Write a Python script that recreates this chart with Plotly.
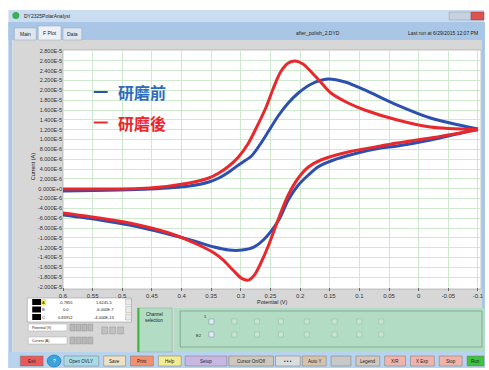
import re
import plotly.graph_objects as go

# ---------------- data (potential in V, current in µA) ----------------
blue_fwd_E = [0.600, 0.454, 0.387, 0.354, 0.337, 0.320, 0.304, 0.282, 0.267, 0.253, 0.237,
              0.220, 0.203, 0.181, 0.153, 0.124, 0.091, 0.036, -0.020, -0.100]
blue_fwd_uA = [-0.48, -0.07, 0.54, 1.35, 2.17, 3.39, 4.81, 6.64, 9.08, 11.73, 14.78,
               17.42, 19.46, 21.29, 22.30, 21.69, 20.07, 17.0, 14.37, 12.13]
blue_rev_E = [-0.100, -0.020, 0.036, 0.064, 0.103, 0.148, 0.170, 0.186, 0.203, 0.220, 0.236,
              0.262, 0.278, 0.298, 0.320, 0.345, 0.379, 0.429, 0.488, 0.538, 0.600]
blue_rev_uA = [12.13, 9.90, 8.68, 8.27, 7.25, 5.63, 4.41, 2.78, 0.74, -2.31, -6.37,
               -10.44, -11.87, -12.48, -12.48, -11.87, -10.65, -9.02, -7.39, -6.37, -5.36]

red_fwd_E = [0.600, 0.454, 0.387, 0.354, 0.337, 0.320, 0.304, 0.287, 0.274, 0.258, 0.245,
             0.233, 0.220, 0.208, 0.195, 0.181, 0.164, 0.148, 0.119, 0.091, 0.036, -0.020, -0.100]
red_fwd_uA = [-0.07, 0.13, 1.15, 2.17, 3.19, 4.61, 6.44, 9.29, 12.34, 16.41, 20.47,
              23.73, 25.56, 25.97, 25.36, 23.73, 21.49, 19.46, 17.42, 16.0, 13.97, 12.54, 12.0]
red_rev_E = [-0.100, -0.020, 0.036, 0.064, 0.119, 0.165, 0.186, 0.203, 0.220, 0.236, 0.253,
             0.267, 0.276, 0.286, 0.298, 0.312, 0.330, 0.345, 0.371, 0.421, 0.488, 0.538, 0.600]
red_rev_uA = [12.0, 10.30, 9.29, 8.68, 7.46, 5.83, 4.41, 2.17, -1.29, -5.97, -11.46,
              -15.32, -17.40, -18.55, -18.30, -16.70, -14.50, -13.10, -11.46, -9.02, -6.98, -5.97, -4.95]

x_ticks = [0.6, 0.55, 0.5, 0.45, 0.4, 0.35, 0.3, 0.25, 0.2, 0.15, 0.1, 0.05, 0, -0.05, -0.1]
x_ticktext = ["0.6", "0.55", "0.5", "0.45", "0.4", "0.35", "0.3", "0.25", "0.2", "0.15",
              "0.1", "0.05", "0", "-0.05", "-0.1"]
y_ticks_uA = [28, 26, 24, 22, 20, 18, 16, 14, 12, 10, 8, 6, 4, 2, 0,
              -2, -4, -6, -8, -10, -12, -14, -16, -18, -20]

series_names = ["研磨前", "研磨後"]
series_colors = ["#2d4fae", "#e8282c"]


def fmt_e(v):
    s = f"{v:.3E}"
    return re.sub(r"E([+-])0*(\d)", r"E\1\2", s)


y_ticks = [v * 1e-6 for v in y_ticks_uA]
y_ticktext = [fmt_e(v) for v in y_ticks]

# ---------------- geometry helpers (pixel -> paper) ----------------
W, H = 489, 370
L, R, T, B = 63, 484, 51, 287


def px(x):
    return (x - L) / (R - L)


def py(y):
    return (B - y) / (B - T)


shapes = []
annotations = []


def rect(x0, y0, x1, y1, fill, line=None, lw=0.6, layer="below", kind="rect"):
    shapes.append(dict(type=kind, xref="paper", yref="paper",
                       x0=px(x0), x1=px(x1), y0=py(y1), y1=py(y0),
                       fillcolor=fill, layer=layer,
                       line=dict(color=line if line else "rgba(0,0,0,0)", width=lw if line else 0)))


def text(x, y, s, size=6, color="#222", anchor="center", angle=0, bold=False, family="Arial, Liberation Sans"):
    annotations.append(dict(x=px(x), y=py(y), xref="paper", yref="paper", text=s, showarrow=False,
                            xanchor=anchor, yanchor="middle", textangle=angle,
                            font=dict(size=size, color=color, family=family,
                                      weight="bold" if bold else "normal")))


# window chrome
rect(8, 10, 487, 22, "#c9dcf0")
rect(8, 22, 487, 40, "#a9c6e6")
rect(8, 22, 12, 368, "#a9c6e6")
rect(485, 22, 488, 368, "#a9c6e6")
rect(12, 40, 485, 352, "#d7d7d7")
rect(8, 352, 488, 368, "#b7d3ed")
rect(12, 12, 19, 19, "#3cae5a", kind="circle")
text(22, 16, "DY2325PolarAnalyst", size=5, anchor="left")
rect(452, 12, 474, 20, "#c8d2de", line="#8898aa", lw=0.5)
rect(474, 12, 487, 20, "#d9534f", line="#a03030", lw=0.5)
# tabs
rect(14, 28, 36, 40, "#dfe6ee", line="#8ea4bd", lw=0.5)
rect(38, 26, 61, 40, "#eef2f7", line="#8ea4bd", lw=0.5)
rect(63, 28, 82, 40, "#dfe6ee", line="#8ea4bd", lw=0.5)
text(25, 34, "Main", size=5)
text(49.5, 33, "F Plot", size=5)
text(72.5, 34, "Data", size=5)
text(320, 33, "after_polish_2.DYD", size=5)
text(446, 33, "Last run at 6/29/2015 12:07 PM", size=5)

# plot area
rect(63, 50, 484, 289, "white", line="#a0a0a0", lw=0.6)

# axis titles
text(33, 167, "Current (A)", size=5.5, angle=-90)
text(273, 302, "Potential (V)", size=5.5)

# cursor table
rect(27, 298, 132, 322, "white", line="#888", lw=0.5)
for i, (a, b, c) in enumerate([("A", "-0.7855", "1.6245-5"), ("B", "0.0", "-6.000E-7"),
                               ("C", "0.83952", "-4.000E-13")]):
    y = 302 + i * 7.5
    rect(32, y - 3, 41, y + 3, "#000")
    rect(41, y - 3, 46, y + 3, "#f2ee60" if i == 0 else "white")
    text(43.5, y, a, size=4)
    text(66, y, b, size=4)
    text(105, y, c, size=4)
    rect(126, y - 3, 132, y + 3, "#e8e8e8", line="#999", lw=0.4)
rect(28, 324, 67, 331, "white", line="#999", lw=0.4)
rect(28, 337, 67, 344, "white", line="#999", lw=0.4)
text(30, 327.5, "Potential (V)", size=3.5, anchor="left")
text(30, 340.5, "Current (A)", size=3.5, anchor="left")
for yy in (324, 337):
    for k in range(4):
        rect(70 + k * 6, yy, 75 + k * 6, yy + 7, "#b8b8b8", line="#777", lw=0.3)
for k in range(3):
    rect(102 + k * 8, 327, 108 + k * 8, 334, "#c0c0c0", line="#777", lw=0.3)

# channel selection panel
rect(138, 308, 173, 352, "#b2dcc4", line="#8aa89a", lw=0.5)
rect(138, 308, 140, 352, "#3cb83c")
text(155, 314, "Channel", size=4.5)
text(155, 320, "selection", size=4.5)
rect(175, 308, 488, 352, "#b2dcc4")
rect(181, 311, 485, 347, "rgba(0,0,0,0)", line="#7f9c8c", lw=0.8)
for row, yy in enumerate((322, 335)):
    for k, xx in enumerate([210, 233, 256, 280, 306, 334, 359, 381]):
        col = "#e4ecf4" if k == 0 else "#c8e6d4"
        rect(xx, yy - 3, xx + 5, yy + 2, col, line="#8aa89a" if k else "#6677aa", lw=0.4)
text(207, 316, "1", size=4)
text(200, 335, "E2", size=4)

# buttons
buttons = [("Exit", 20, 43, "#e85a5a"), ("Open OVLY", 64, 99, "#a9dbe6"), ("Save", 104, 126, "#efe2c4"),
           ("Print", 131, 154, "#f29070"), ("Help", 159, 182, "#f4ec94"), ("Setup", 186, 228, "#c9b6e2"),
           ("Cursor On/Off", 230, 275, "#cfc6bc"), ("• • •", 277, 302, "#dcdcdc"), ("Auto Y", 304, 328, "#d9c2aa"),
           ("", 333, 353, "#c8c8c8"), ("Legend", 358, 382, "#d4c8bc"), ("X/R", 387, 408, "#f2b4aa"),
           ("X Exp", 413, 437, "#f2b4aa"), ("Stop", 442, 465, "#f2b4aa"), ("Run", 470, 487, "#3fc23f")]
for lab, x0, x1, col in buttons:
    rect(x0, 356, x1, 366, col, line="#777", lw=0.5)
    if lab:
        text((x0 + x1) / 2, 361, lab, size=4.5)
rect(47, 355, 61, 367, "#3aa3da", line="#1d6fa0", lw=0.6, kind="circle")
text(54, 361, "?", size=5, color="white")

# curve legend (drawn as text in the plot)
for i, (nm, col) in enumerate(zip(series_names, series_colors)):
    yy = 92 + i * 30.5
    shapes.append(dict(type="line", xref="paper", yref="paper", x0=px(94), x1=px(108),
                       y0=py(yy), y1=py(yy), line=dict(color=col, width=2), layer="above"))
    text(116, yy, nm, size=16, color=("#2e6bbd" if i == 0 else col), anchor="left", bold=True,
         family="Noto Sans CJK TC")

# ---------------- figure ----------------
fig = go.Figure()
curves = [(blue_fwd_E, blue_fwd_uA, series_colors[0]), (blue_rev_E, blue_rev_uA, series_colors[0]),
          (red_fwd_E, red_fwd_uA, series_colors[1]), (red_rev_E, red_rev_uA, series_colors[1])]
for E, I, col in curves:
    fig.add_trace(go.Scatter(x=E, y=[v * 1e-6 for v in I], mode="lines",
                             line=dict(color=col, width=3, shape="spline", smoothing=0.8),
                             showlegend=False, hoverinfo="skip"))

fig.update_layout(
    width=W, height=H,
    margin=dict(l=L, r=W - R, t=T, b=H - B, pad=0),
    paper_bgcolor="white", plot_bgcolor="rgba(0,0,0,0)",
    shapes=shapes, annotations=annotations, showlegend=False,
    font=dict(family="Arial, Liberation Sans", size=6, color="#333"),
    xaxis=dict(range=[0.6, 0.6 - (R - L) / 597.0], tickvals=x_ticks, ticktext=x_ticktext,
               showgrid=True, gridcolor="#cfe9cf", gridwidth=1, zeroline=False,
               ticks="outside", ticklen=3, tickcolor="#666", tickfont=dict(size=6, color="#333"),
               showline=False),
    yaxis=dict(range=[-2.0e-5, 2.8e-5], tickvals=y_ticks, ticktext=y_ticktext,
               showgrid=True, gridcolor="#cfe9cf", gridwidth=1, zeroline=False,
               ticks="", tickfont=dict(size=5.5, color="#333"), showline=False),
)

fig.write_html("out.html", config={"displayModeBar": False},
               post_script="document.body.style.margin='0';document.body.style.padding='0';")
